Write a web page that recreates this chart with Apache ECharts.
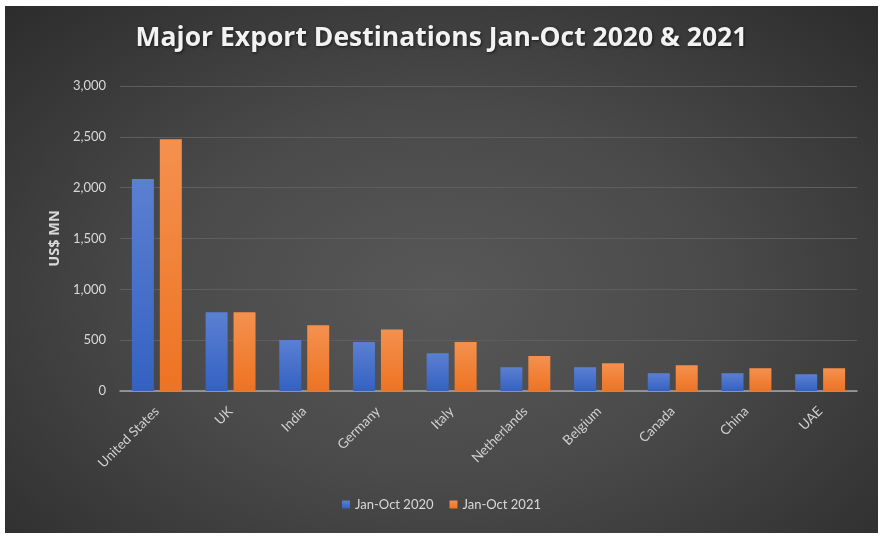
<!DOCTYPE html>
<html>
<head>
<meta charset="utf-8">
<script src="https://cdn.jsdelivr.net/npm/echarts@6/dist/echarts.min.js"></script>
<style>
html,body{margin:0;padding:0;background:#fff;width:885px;height:540px;overflow:hidden;}
#chart{position:absolute;left:5px;top:6px;width:873px;height:527px;
background:radial-gradient(ellipse at 50% 55%, #585858 0%, #4a4a4a 45%, #2c2c2c 100%);}
</style>
</head>
<body>
<div id="chart"></div>
<script>
const categories = ['United States','UK','India','Germany','Italy','Netherlands','Belgium','Canada','China','UAE'];
const values2020 = [2085, 774, 502, 482, 371, 233, 233, 174, 174, 164];
const values2021 = [2476, 774, 646, 604, 482, 344, 272, 253, 223, 223];
const seriesNames = ['Jan-Oct 2020','Jan-Oct 2021'];
const yTicks = {min:0, max:3000, interval:500};

const chart = echarts.init(document.getElementById('chart'), null, {renderer:'canvas'});
const font = 'Lato, "Open Sans", sans-serif';
function grad(top, bottom){
  return new echarts.graphic.LinearGradient(0,0,0,1,[{offset:0,color:top},{offset:1,color:bottom}]);
}
chart.setOption({
  backgroundColor:'transparent',
  title:{text:'Major Export Destinations Jan-Oct 2020 & 2021', left:'center', top:14,
    textStyle:{color:'#f2f2f2', fontSize:26.5, fontWeight:'bold', fontFamily:'"Open Sans", sans-serif',
      textShadowColor:'rgba(0,0,0,0.6)', textShadowBlur:3, textShadowOffsetX:1, textShadowOffsetY:1}},
  legend:{bottom:17, left:'center', itemWidth:8, itemHeight:8, itemGap:16, icon:'rect',
    textStyle:{color:'#d9d9d9', fontSize:13, fontFamily:font},
    data:seriesNames},
  grid:{left:115, right:21, top:80, bottom:142, containLabel:false},
  xAxis:{type:'category', data:categories,
    axisLine:{lineStyle:{color:'#a6a6a6', width:1.5}}, axisTick:{show:false},
    axisLabel:{rotate:45, color:'#d0d0d0', fontSize:13.5, fontFamily:font, margin:18, interval:0}},
  yAxis:{type:'value', min:yTicks.min, max:yTicks.max, interval:yTicks.interval,
    name:'US$ MN', nameLocation:'middle', nameGap:45, nameRotate:90,
    nameTextStyle:{color:'#d9d9d9', fontSize:14.5, fontWeight:'bold', fontFamily:'"Open Sans", sans-serif'},
    axisLine:{show:false}, axisTick:{show:false},
    axisLabel:{color:'#d9d9d9', fontSize:13, fontFamily:font, margin:14,
      formatter:v=>v.toLocaleString('en-US')},
    splitLine:{lineStyle:{color:'#5e5e5e', width:1}}},
  series:[
    {name:seriesNames[0], type:'bar', data:values2020, barWidth:22, barGap:'27%',
      itemStyle:{color:grad('#5b80d2','#3461c2'), shadowColor:'rgba(0,0,0,0.55)', shadowBlur:3, shadowOffsetX:1, shadowOffsetY:0}},
    {name:seriesNames[1], type:'bar', data:values2021, barWidth:22, barGap:'27%',
      itemStyle:{color:grad('#f4914f','#ee7322'), shadowColor:'rgba(0,0,0,0.55)', shadowBlur:3, shadowOffsetX:1, shadowOffsetY:0}}
  ]
});
</script>
</body>
</html>
